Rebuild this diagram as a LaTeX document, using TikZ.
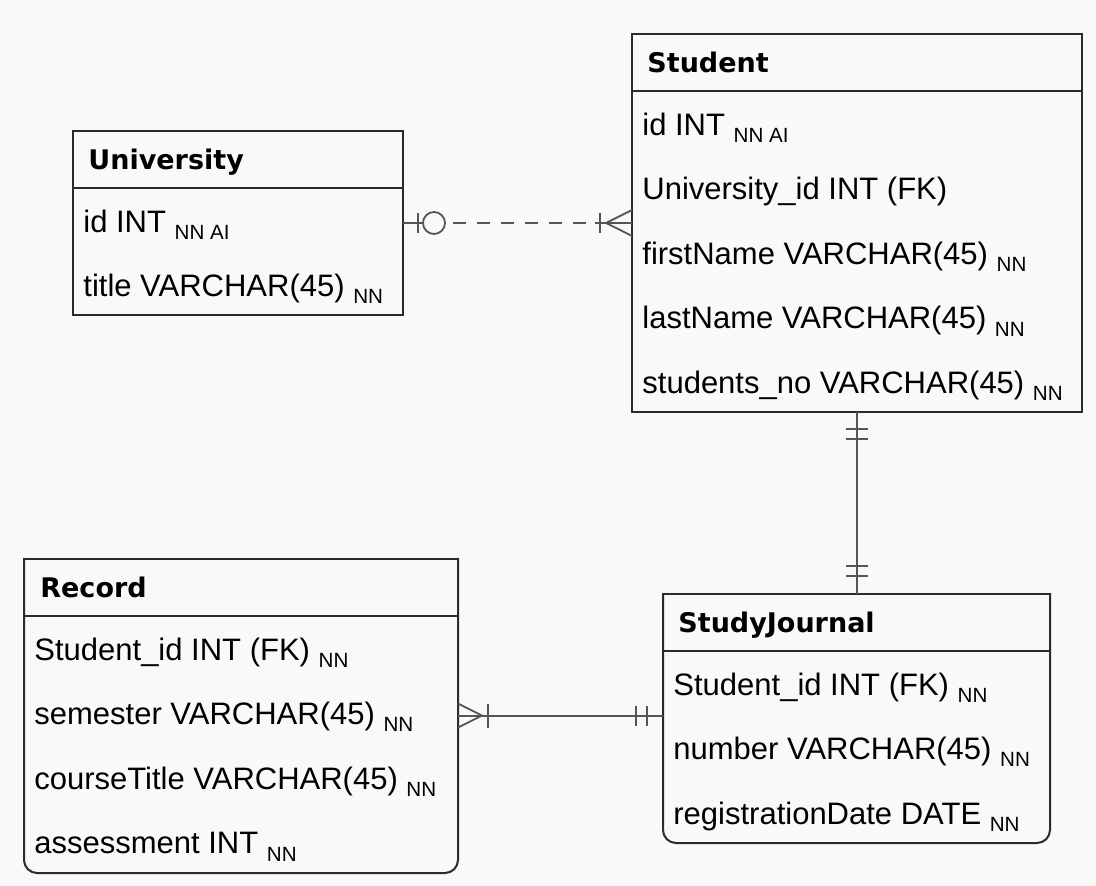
\documentclass[tikz,border=0pt]{standalone}
\usepackage{fontspec}
\setmainfont{Liberation Sans}
\newfontfamily\headfont{DejaVu Sans}
\usepackage{tikz}
\usetikzlibrary{calc}
\definecolor{erbg}{HTML}{F9F9F9}
\definecolor{erframe}{HTML}{2B2B2B}
\definecolor{erlink}{HTML}{555555}
\newcommand{\colflag}[1]{\raisebox{-3.6pt}{\fontsize{10.3}{12}\selectfont #1}}
\tikzset{
  entity/.style={anchor=north west,inner sep=0pt,outer sep=0pt},
  entframe/.style={draw=erframe,line width=1pt,line cap=rect},
  enttitle/.style={anchor=west,inner sep=0pt,text height=9.8pt,text depth=0pt,
    font=\headfont\bfseries\fontsize{13.5}{16}\selectfont},
  entfield/.style={anchor=west,inner sep=0pt,text height=11.1pt,text depth=0pt,
    font=\fontsize{15.5}{18}\selectfont},
  link/.style={draw=erlink,line width=0.9pt},
}

\begin{document}
\begin{tikzpicture}[x=0.5pt,y=-0.5pt]
	\fill[erbg] (0,0) rectangle (1096,886);
	\useasboundingbox (0,0) rectangle (1096,886);

	\node[entity,entframe,minimum width=165pt,minimum height=92pt] (uni) at (73,131) {};
	\draw[entframe] ($(uni.north west)+(0,57)$) -- ($(uni.north east)+(0,57)$);
	\node[enttitle] (unititle) at ($(uni.north west)+(15,28.5)$) {University};
	\foreach \txt [count=\i] in {{id INT \colflag{NN AI}},{title VARCHAR(45) \colflag{NN}}}
		\node[entfield] (uni\i) at ($(uni.north west)+(10,{25.4+64.6*\i})$) {\txt};

	\node[entity,entframe,minimum width=225pt,minimum height=189pt] (stu) at (632,34) {};
	\draw[entframe] ($(stu.north west)+(0,57)$) -- ($(stu.north east)+(0,57)$);
	\node[enttitle] (stutitle) at ($(stu.north west)+(15,28.5)$) {Student};
	\foreach \txt [count=\i] in {{id INT \colflag{NN AI}},{University\_id INT (FK)},
		{firstName VARCHAR(45) \colflag{NN}},{lastName VARCHAR(45) \colflag{NN}},
		{students\_no VARCHAR(45) \colflag{NN}}}
		\node[entfield] (stu\i) at ($(stu.north west)+(10,{25.4+64.6*\i})$) {\txt};

	\node[entity,minimum width=217pt,minimum height=157pt] (rec) at (24,559) {};
	\draw[entframe,rounded corners=6.5pt] (rec.north west) -- (rec.south west) -- (rec.south east) -- (rec.north east);
	\draw[entframe] (rec.north west) -- (rec.north east);
	\draw[entframe] ($(rec.north west)+(0,57)$) -- ($(rec.north east)+(0,57)$);
	\node[enttitle] (rectitle) at ($(rec.north west)+(16,28.5)$) {Record};
	\foreach \txt [count=\i] in {{Student\_id INT (FK) \colflag{NN}},{semester VARCHAR(45) \colflag{NN}},
		{courseTitle VARCHAR(45) \colflag{NN}},{assessment INT \colflag{NN}}}
		\node[entfield] (rec\i) at ($(rec.north west)+(10,{25.4+64.6*\i})$) {\txt};

	\node[entity,minimum width=193.5pt,minimum height=124.5pt] (sj) at (663,594) {};
	\draw[entframe,rounded corners=6.5pt] (sj.north west) -- (sj.south west) -- (sj.south east) -- (sj.north east);
	\draw[entframe] (sj.north west) -- (sj.north east);
	\draw[entframe] ($(sj.north west)+(0,57)$) -- ($(sj.north east)+(0,57)$);
	\node[enttitle] (sjtitle) at ($(sj.north west)+(15,28.5)$) {StudyJournal};
	\foreach \txt [count=\i] in {{Student\_id INT (FK) \colflag{NN}},{number VARCHAR(45) \colflag{NN}},
		{registrationDate DATE \colflag{NN}}}
		\node[entfield] (sj\i) at ($(sj.north west)+(10,{25.4+64.6*\i})$) {\txt};

	\coordinate (ua) at ($(uni.east |- uni1)+(0,2)$);
	\coordinate (sa) at (stu.west |- ua);
	\draw[link] (ua) -- ++(20,0);
	\draw[link] ($(ua)+(15,-10)$) -- ($(ua)+(15,10)$);
	\draw[link] ($(ua)+(31,0)$) circle[radius=5.5pt];
	\draw[link,dash pattern=on 6.5pt off 5.5pt] ($(ua)+(50,0)$) -- ($(sa)+(-42,0)$);
	\draw[link] ($(sa)+(-37,0)$) -- (sa);
	\draw[link] ($(sa)+(-32,-10)$) -- ($(sa)+(-32,10)$);
	\draw[link] ($(sa)+(0,-13)$) -- ($(sa)+(-26,0)$) -- ($(sa)+(0,13)$);

	\draw[link] (stu.south) -- (sj.north -| stu.south);
	\foreach \d in {17,27}
		\draw[link] ($(stu.south)+(-11,\d)$) -- ($(stu.south)+(11,\d)$);
	\foreach \d in {18,28}
		\draw[link] ($(sj.north -| stu.south)+(-11,-\d)$) -- ($(sj.north -| stu.south)+(11,-\d)$);

	\coordinate (ra) at ($(rec.east |- rec2)+(0,2)$);
	\coordinate (ja) at (sj.west |- ra);
	\draw[link] (ra) -- (ja);
	\draw[link] ($(ra)+(0,-12)$) -- ($(ra)+(24,0)$) -- ($(ra)+(0,12)$);
	\draw[link] ($(ra)+(30,-12)$) -- ($(ra)+(30,12)$);
	\foreach \d in {16,27}
		\draw[link] ($(ja)+(-\d,-10)$) -- ($(ja)+(-\d,10)$);
\end{tikzpicture}
\end{document}
